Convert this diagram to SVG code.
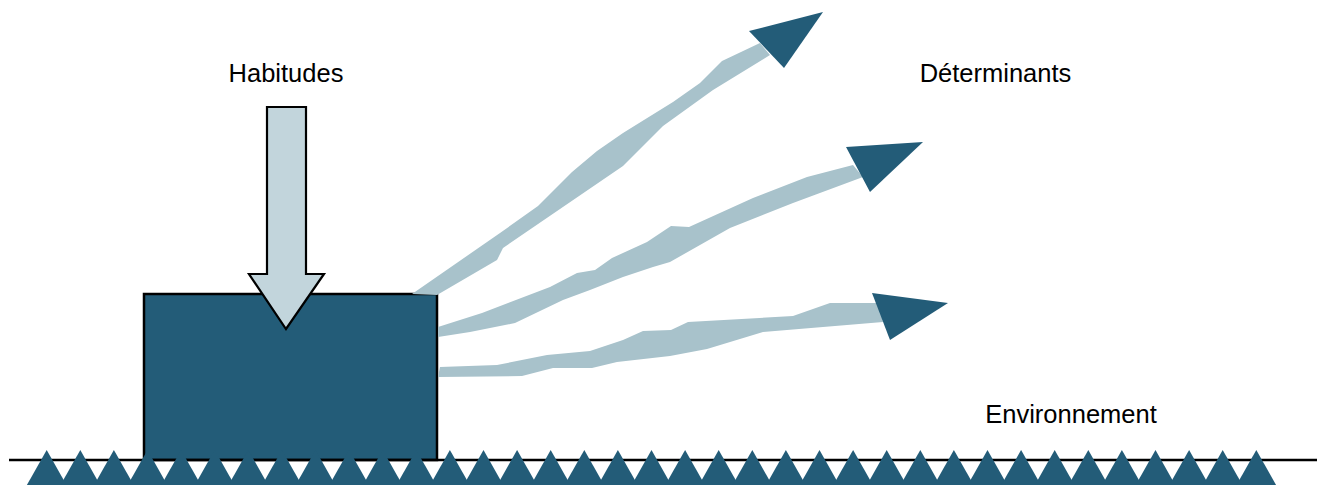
<svg xmlns="http://www.w3.org/2000/svg" xmlns:xlink="http://www.w3.org/1999/xlink" width="1317" height="485" viewBox="0 0 1317 485">
<style>
.lbl{font-family:"Liberation Sans",Arial,sans-serif;font-size:25.5px;fill:#000}
.ribbon{fill:#a8c2cb;stroke:none}
.head{fill:#235c78;stroke:none}
.tri{fill:#235c78}
</style>
<defs>
<path id="t" class="tri" d="M -19.8 485 L 0 450 L 19.8 485 Z"/>
</defs>
<rect width="1317" height="485" fill="#fff"/>
<g id="box">
<rect x="144" y="294" width="293" height="166" fill="#235c78" stroke="#000" stroke-width="2.5"/>
</g>
<g id="habitudes">
<text class="lbl" x="286" y="82" text-anchor="middle">Habitudes</text>
<path d="M 267 107 L 306 107 L 306 274 L 324 274 L 286 329 L 249 274 L 267 274 Z" fill="#c2d5dc" stroke="#000" stroke-width="2.2" stroke-linejoin="miter"/>
</g>
<g id="connectors">
<polygon class="ribbon" points="412,294 500,233 538,206 572,172 597,151 623,133 673,102 700,83 722,61 760,43 770,55 713,90 663,126 623,166 503,248 497,260 437,295"/>
<polygon class="head" points="749,31 823,12 784,68"/>
<polygon class="ribbon" points="438,327 482,313 550,287 577,273 595,270 612,258 647,242 671,226 689,227 753,198 807,177 853,165 863,177 793,203 730,228 670,262 653,267 623,277 590,290 563,300 515,323 470,332 438,337"/>
<polygon class="head" points="846,147 923,142 870,192"/>
<polygon class="ribbon" points="440,367 497,365 547,355 590,351 623,340 643,331 671,330 688,322 793,316 830,303 880,303 883,322 763,332 707,349 670,356 617,362 592,368 553,368 522,376 438,377"/>
<polygon class="head" points="872,293 948,303 890,340"/>
</g>
<g id="determinants">
<text class="lbl" x="995.5" y="82" text-anchor="middle">Déterminants</text>
</g>
<g id="environnement">
<line x1="9" y1="460" x2="1317" y2="460" stroke="#000" stroke-width="2.5"/>
<use xlink:href="#t" x="46.7"/><use xlink:href="#t" x="80.3"/><use xlink:href="#t" x="113.9"/><use xlink:href="#t" x="147.5"/><use xlink:href="#t" x="181.1"/><use xlink:href="#t" x="214.7"/><use xlink:href="#t" x="248.3"/><use xlink:href="#t" x="281.9"/><use xlink:href="#t" x="315.5"/><use xlink:href="#t" x="349.1"/><use xlink:href="#t" x="382.7"/><use xlink:href="#t" x="416.3"/><use xlink:href="#t" x="449.9"/><use xlink:href="#t" x="483.5"/><use xlink:href="#t" x="517.1"/><use xlink:href="#t" x="550.7"/><use xlink:href="#t" x="584.3"/><use xlink:href="#t" x="617.9"/><use xlink:href="#t" x="651.5"/><use xlink:href="#t" x="685.1"/><use xlink:href="#t" x="718.7"/><use xlink:href="#t" x="752.3"/><use xlink:href="#t" x="785.9"/><use xlink:href="#t" x="819.5"/><use xlink:href="#t" x="853.1"/><use xlink:href="#t" x="886.7"/><use xlink:href="#t" x="920.3"/><use xlink:href="#t" x="953.9"/><use xlink:href="#t" x="987.5"/><use xlink:href="#t" x="1021.1"/><use xlink:href="#t" x="1054.7"/><use xlink:href="#t" x="1088.3"/><use xlink:href="#t" x="1121.9"/><use xlink:href="#t" x="1155.5"/><use xlink:href="#t" x="1189.1"/><use xlink:href="#t" x="1222.7"/><use xlink:href="#t" x="1256.3"/>
<text class="lbl" x="1071" y="423" text-anchor="middle">Environnement</text>
</g>
</svg>
